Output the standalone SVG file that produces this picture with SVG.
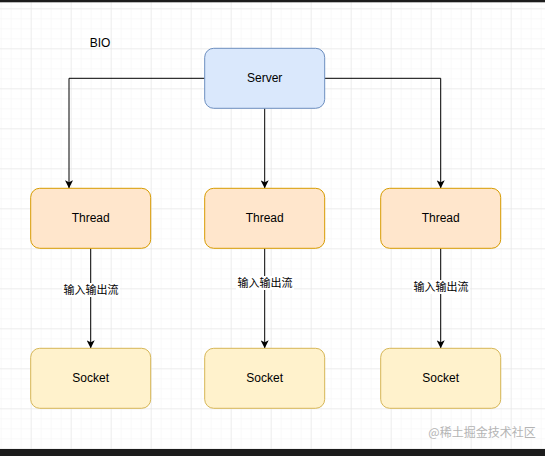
<svg xmlns="http://www.w3.org/2000/svg" width="545" height="456" viewBox="0 0 545 456">
<defs>
<pattern id="minor" x="0.7" y="8.3" width="10" height="10" patternUnits="userSpaceOnUse">
<path d="M0 0H10M0 0V10" fill="none" stroke="#f3f3f3" stroke-width="1"/>
</pattern>
<pattern id="major" x="30.7" y="8.3" width="40" height="40" patternUnits="userSpaceOnUse">
<path d="M0 0H40M0 0V40" fill="none" stroke="#e2e2e2" stroke-width="1"/>
</pattern>
<marker id="arr" viewBox="0 0 10 10" refX="10" refY="5" markerWidth="8" markerHeight="8" markerUnits="userSpaceOnUse" orient="auto">
<path d="M0 0L10 5L0 10L2.5 5Z" fill="#000"/>
</marker>
</defs>
<style>
.t{font-family:"Liberation Sans",Arial,sans-serif;font-size:12px;fill:#000;text-anchor:middle;dominant-baseline:central}
.lbl{font-family:"Liberation Sans","Noto Sans CJK SC",sans-serif;font-size:11px;fill:#000;text-anchor:middle;dominant-baseline:central}
.srv{fill:#dae8fc;stroke:#6c8ebf;stroke-width:1}
.thr{fill:#ffe6cc;stroke:#d79b00;stroke-width:1}
.sck{fill:#fff2cc;stroke:#d6b656;stroke-width:1}
.e{fill:none;stroke:#000;stroke-width:1;marker-end:url(#arr)}
</style>
<rect width="545" height="456" fill="#fff"/>
<rect width="545" height="456" fill="url(#minor)"/>
<rect width="545" height="456" fill="url(#major)"/>
<rect x="0" y="0" width="545" height="2.3" fill="#1c1c1c"/>
<rect x="0" y="449" width="545" height="7" fill="#1c1c1c"/>
<text class="t" x="100" y="43">BIO</text>
<g id="connectors">
<path class="e" d="M204.7 78.3H69V188.3"/>
<path class="e" d="M264.7 108.3V188.3"/>
<path class="e" d="M324.7 78.3H440.7V188.3"/>
<path class="e" d="M90.7 248.3V348.3"/>
<path class="e" d="M264.7 248.3V348.3"/>
<path class="e" d="M440.7 248.3V348.3"/>
<rect x="62" y="283" width="58" height="14" fill="#fff"/>
<text class="lbl" x="91" y="290">输入输出流</text>
<rect x="236" y="276" width="58" height="14" fill="#fff"/>
<text class="lbl" x="265" y="283.3">输入输出流</text>
<rect x="412" y="280" width="58" height="14" fill="#fff"/>
<text class="lbl" x="441" y="286.7">输入输出流</text>
</g>
<g id="server"><rect class="srv" x="204.7" y="48.3" width="120" height="60" rx="9"/><text class="t" x="264.7" y="78.3">Server</text></g>
<g id="thread1"><rect class="thr" x="30.7" y="188.3" width="120" height="60" rx="9"/><text class="t" x="90.7" y="218.3">Thread</text></g>
<g id="thread2"><rect class="thr" x="204.7" y="188.3" width="120" height="60" rx="9"/><text class="t" x="264.7" y="218.3">Thread</text></g>
<g id="thread3"><rect class="thr" x="380.7" y="188.3" width="120" height="60" rx="9"/><text class="t" x="440.7" y="218.3">Thread</text></g>
<g id="socket1"><rect class="sck" x="30.7" y="348.3" width="120" height="60" rx="9"/><text class="t" x="90.7" y="378.3">Socket</text></g>
<g id="socket2"><rect class="sck" x="204.7" y="348.3" width="120" height="60" rx="9"/><text class="t" x="264.7" y="378.3">Socket</text></g>
<g id="socket3"><rect class="sck" x="380.7" y="348.3" width="120" height="60" rx="9"/><text class="t" x="440.7" y="378.3">Socket</text></g>
<text x="482" y="431" font-family="'Noto Sans CJK SC','Liberation Sans',sans-serif" font-size="12" fill="#b4b4b4" text-anchor="middle" dominant-baseline="central">@稀土掘金技术社区</text>
</svg>
